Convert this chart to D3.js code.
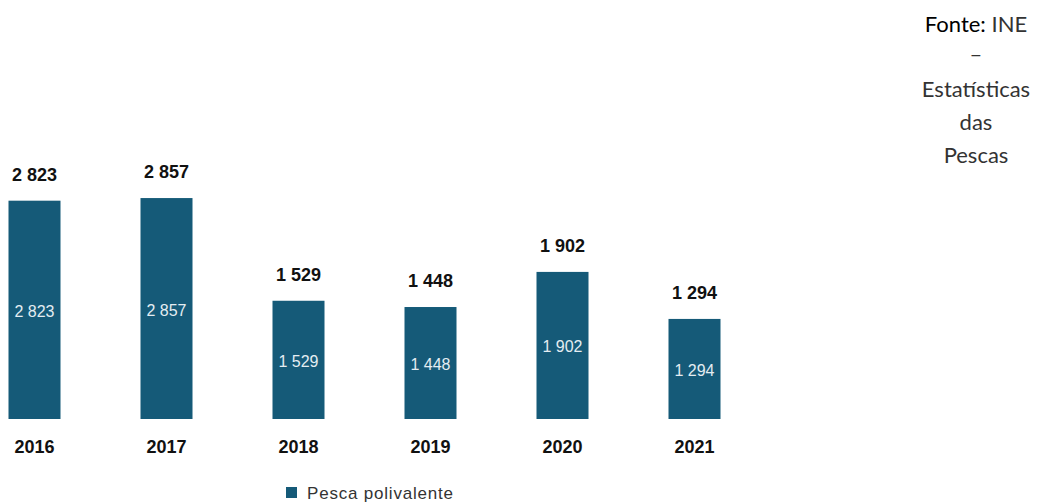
<!DOCTYPE html>
<html><head><meta charset="utf-8">
<script src="https://cdn.jsdelivr.net/npm/d3@7"></script>
<style>body{margin:0;background:#fff}</style>
</head><body>
<svg id="c" width="1038" height="502"></svg>
<script>
const categories = ["2016","2017","2018","2019","2020","2021"];
const values = [2823, 2857, 1529, 1448, 1902, 1294];
const seriesName = "Pesca polivalente";
const sourceLines = ["–", "Estatísticas", "das", "Pescas"];

const svg = d3.select("#c");
const color = "#155a78";
const fmt = d3.formatLocale({decimal:",", thousands:" ", grouping:[3], currency:["","€"]}).format(",d");

const x = d3.scaleBand().domain(categories).range([-31.5, 760.5])
  .paddingInner(80/132).paddingOuter(40/132);
const y = d3.scaleLinear().domain([0, 3000]).range([419, 187]);

const g = svg.append("g");
g.selectAll("rect.bar").data(values).enter().append("rect")
  .attr("class","bar")
  .attr("x",(d,i)=>x(categories[i]))
  .attr("width",x.bandwidth())
  .attr("y",d=>y(d))
  .attr("height",d=>y(0)-y(d))
  .attr("fill",color);

g.selectAll("text.top").data(values).enter().append("text")
  .attr("x",(d,i)=>x(categories[i])+x.bandwidth()/2)
  .attr("y",d=>y(d)-20)
  .attr("text-anchor","middle")
  .attr("font-family","Liberation Sans, Arial, sans-serif")
  .attr("font-weight","bold").attr("font-size",18).attr("fill","#111")
  .text(d=>fmt(d));

g.selectAll("text.in").data(values).enter().append("text")
  .attr("x",(d,i)=>x(categories[i])+x.bandwidth()/2)
  .attr("y",d=>(y(d)+y(0))/2+7)
  .attr("text-anchor","middle")
  .attr("font-family","Liberation Sans, Arial, sans-serif")
  .attr("font-size",16).attr("fill","#e4edf2")
  .text(d=>fmt(d));

const xAxis = d3.axisBottom(x).tickSize(0).tickPadding(0);
const ax = svg.append("g").attr("transform","translate(0,453)").call(xAxis);
ax.select(".domain").remove();
ax.selectAll("text").attr("font-family","Liberation Sans, Arial, sans-serif")
  .attr("font-weight","bold").attr("font-size",18).attr("fill","#111")
  .attr("dy","0");

// legend
const lg = svg.append("g").attr("transform","translate(286,487)");
lg.append("rect").attr("width",11).attr("height",11).attr("fill",color);
lg.append("text").attr("x",21).attr("y",11.5)
  .attr("font-family","Liberation Sans, Arial, sans-serif")
  .attr("font-size",17).attr("letter-spacing",0.8).attr("fill","#333").text(seriesName);

// source
const src = svg.append("g").attr("font-family","Lato, 'Open Sans', sans-serif").attr("font-size",22).attr("text-anchor","middle");
const t0 = src.append("text").attr("x",976).attr("y",32);
t0.append("tspan").attr("fill","#000").text("Fonte:");
t0.append("tspan").attr("fill","#333").text(" INE");
src.selectAll("text.l").data(sourceLines).enter().append("text")
  .attr("x",976).attr("y",(d,i)=>[62,97,130,163][i]).attr("fill","#333").text(d=>d);
</script>
</body></html>
